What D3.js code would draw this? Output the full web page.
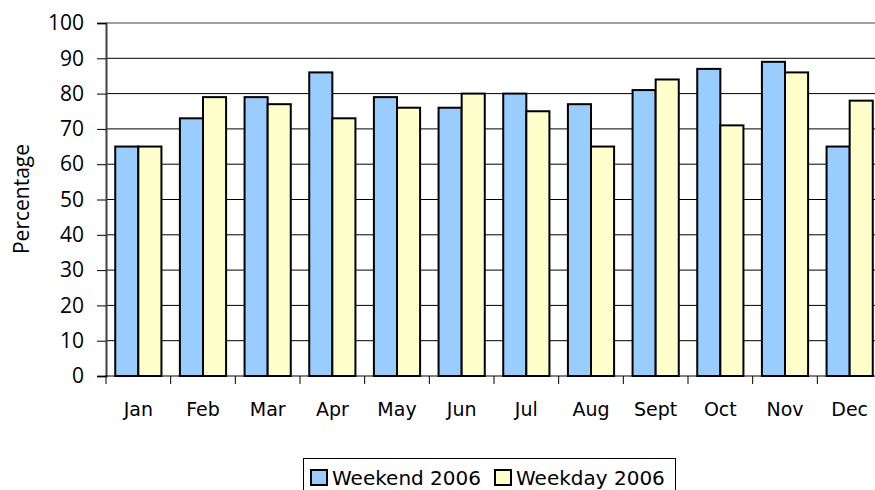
<!DOCTYPE html>
<head>
  <meta charset="utf-8">
  <script src="https://cdn.jsdelivr.net/npm/d3@7"></script>
  <style>
    body { margin: 0; background: #fff; }
  </style>
</head>
<body>
<div id="container"></div>
<script>

  let months = ["Jan", "Feb", "Mar", "Apr", "May", "Jun", "Jul", "Aug", "Sept", "Oct", "Nov", "Dec"];
  let series_names = ["Weekend 2006", "Weekday 2006"];
  let weekend = [65, 73, 79, 86, 79, 76, 80, 77, 81, 87, 89, 65];
  let weekday = [65, 79, 77, 73, 76, 80, 75, 65, 84, 71, 86, 78];
  let y_ticks = [0, 10, 20, 30, 40, 50, 60, 70, 80, 90, 100];
  let colors = ["#99ccff", "#ffffcc"];

  let svg_width = 875;
  let svg_height = 490;

  let padding = { top: 23, right: -7, bottom: 114, left: 106 };

  let svg = d3.select("#container").append("svg")
          .attr("width", svg_width)
          .attr("height", svg_height);

  let xScale = d3.scaleBand()
          .domain(months)
          .range([padding.left, svg_width - padding.right]);

  let inner = d3.scaleBand()
          .domain(series_names)
          .range([0, xScale.bandwidth()])
          .paddingOuter(0.4)
          .paddingInner(0);

  let yScale = d3.scaleLinear()
          .domain([0, 100])
          .range([svg_height - padding.bottom, padding.top]);

  // gridlines
  svg.append("g")
          .selectAll("line")
          .data(y_ticks.filter(function (d) { return d > 0 && d < 100; }))
          .enter()
          .append("line")
          .attr("x1", padding.left)
          .attr("x2", svg_width)
          .attr("y1", function (d) { return yScale(d); })
          .attr("y2", function (d) { return yScale(d); })
          .attr("stroke", "#000")
          .attr("stroke-width", 1);

  // top border
  svg.append("line")
          .attr("x1", padding.left)
          .attr("x2", svg_width)
          .attr("y1", yScale(100))
          .attr("y2", yScale(100))
          .attr("stroke", "#a0a0a0")
          .attr("stroke-width", 2);

  let data = months.map(function (m, i) {
    return { month: m, values: [
      { name: series_names[0], value: weekend[i], color: colors[0] },
      { name: series_names[1], value: weekday[i], color: colors[1] }
    ] };
  });

  let groups = svg.append("g")
          .selectAll("g")
          .data(data)
          .enter()
          .append("g")
          .attr("transform", function (d) { return "translate(" + xScale(d.month) + ",0)"; });

  groups.selectAll("rect")
          .data(function (d) { return d.values; })
          .enter()
          .append("rect")
          .attr("x", function (d) { return inner(d.name); })
          .attr("y", function (d) { return yScale(d.value); })
          .attr("width", inner.bandwidth())
          .attr("height", function (d) { return yScale(0) - yScale(d.value); })
          .attr("fill", function (d) { return d.color; })
          .attr("stroke", "#000")
          .attr("stroke-width", 2);

  // y axis
  let y_axis = d3.axisLeft(yScale)
          .tickValues(y_ticks)
          .tickSize(9)
          .tickPadding(13);

  let gy = svg.append("g")
          .attr("transform", "translate(" + padding.left + ",0)")
          .call(y_axis);
  gy.select(".domain").attr("stroke", "#404040").attr("stroke-width", 2);
  gy.selectAll(".tick line").attr("stroke", "#000");
  gy.selectAll(".tick text")
          .attr("fill", "#000")
          .style("font-family", "'Open Sans', sans-serif")
          .style("font-size", "21px");

  // x axis
  let x_axis = d3.axisBottom(xScale)
          .tickSize(0)
          .tickPadding(27);

  let gx = svg.append("g")
          .attr("transform", "translate(0," + yScale(0) + ")")
          .call(x_axis);
  gx.select(".domain").remove();
  gx.selectAll(".tick text")
          .attr("fill", "#000")
          .style("font-family", "'DejaVu Sans', sans-serif")
          .style("font-size", "19px");

  svg.append("line")
          .attr("x1", padding.left - 1)
          .attr("x2", svg_width)
          .attr("y1", yScale(0))
          .attr("y2", yScale(0))
          .attr("stroke", "#000")
          .attr("stroke-width", 1);

  svg.append("g")
          .selectAll("line")
          .data(months)
          .enter()
          .append("line")
          .attr("x1", function (d) { return xScale(d); })
          .attr("x2", function (d) { return xScale(d); })
          .attr("y1", yScale(0))
          .attr("y2", yScale(0) + 8)
          .attr("stroke", "#000")
          .attr("stroke-width", 1);

  // y title
  svg.append("text")
          .attr("transform", "translate(29," + 199 + ") rotate(-90)")
          .style("text-anchor", "middle")
          .style("font-family", "'Open Sans', sans-serif")
          .style("font-size", "21px")
          .text("Percentage");

  // legend
  let legend = svg.append("g");
  legend.append("rect")
          .attr("x", 303.5)
          .attr("y", 458.5)
          .attr("width", 372)
          .attr("height", 40)
          .attr("fill", "#fff")
          .attr("stroke", "#000")
          .attr("stroke-width", 1);

  let legend_x = [311, 495];
  series_names.forEach(function (name, i) {
    legend.append("rect")
            .attr("x", legend_x[i])
            .attr("y", 470)
            .attr("width", 16)
            .attr("height", 15)
            .attr("fill", colors[i])
            .attr("stroke", "#000")
            .attr("stroke-width", 2);
    legend.append("text")
            .attr("x", legend_x[i] + 21)
            .attr("y", 485)
            .style("font-family", "'DejaVu Sans', sans-serif")
            .style("font-size", "20px")
            .text(name);
  });

</script>
</body>
